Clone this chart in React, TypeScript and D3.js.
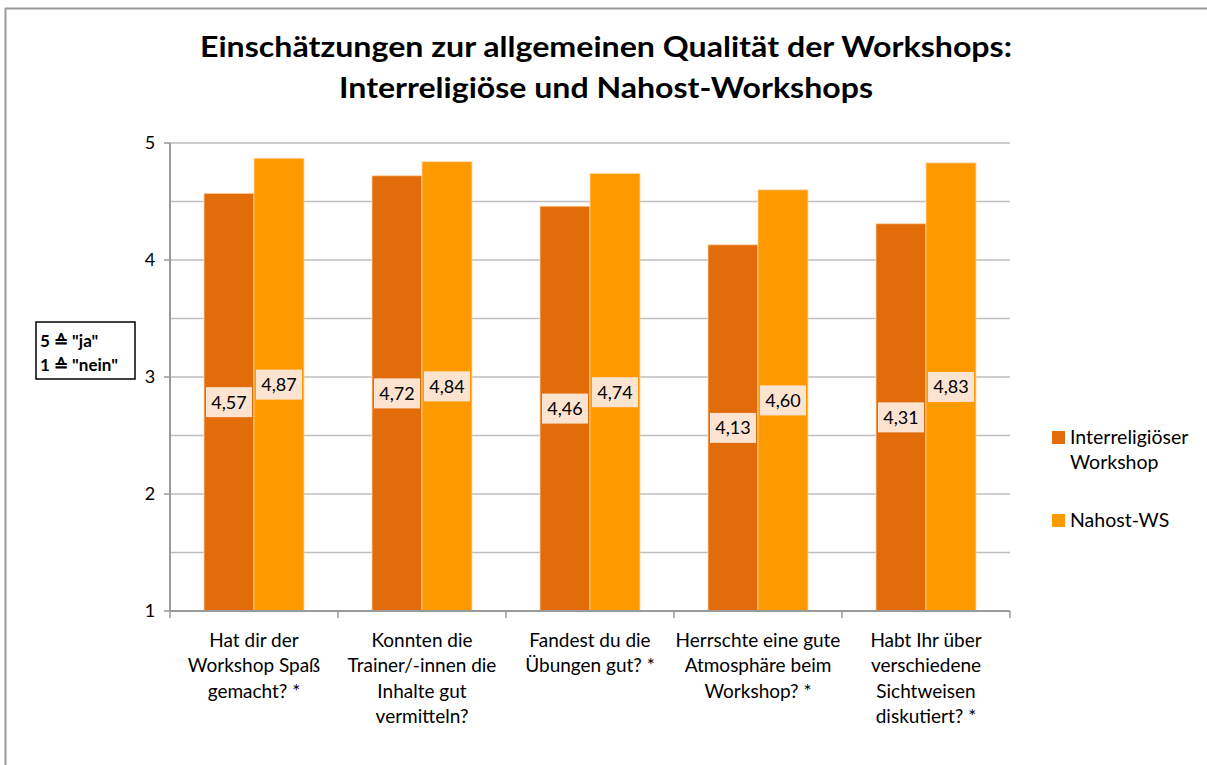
import React from "react";
import * as d3 from "d3";

const categories: string[][] = [
  ["Hat dir der", "Workshop Spaß", "gemacht? *"],
  ["Konnten die", "Trainer/-innen die", "Inhalte gut", "vermitteln?"],
  ["Fandest du die", "Übungen gut? *"],
  ["Herrschte eine gute", "Atmosphäre beim", "Workshop? *"],
  ["Habt Ihr über", "verschiedene", "Sichtweisen", "diskutiert? *"],
];
const seriesNames = ["Interreligiöser Workshop", "Nahost-WS"];
const interreligioes = [4.57, 4.72, 4.46, 4.13, 4.31];
const nahost = [4.87, 4.84, 4.74, 4.6, 4.83];
const yTicks = [1, 2, 3, 4, 5];
const gridValues = [1, 1.5, 2, 2.5, 3, 3.5, 4, 4.5, 5];
const colors = ["#E36C0A", "#FF9900"];
const titleLines = [
  "Einschätzungen zur allgemeinen Qualität der Workshops:",
  "Interreligiöse und Nahost-Workshops",
];

const FONT = "Lato, 'Open Sans', sans-serif";

export default function App() {
  const left = 170, right = 1010, top = 143, bottom = 611;
  const x0 = d3.scaleBand<number>().domain(d3.range(categories.length)).range([left, right]).paddingInner(0).paddingOuter(0);
  const y = d3.scaleLinear().domain([1, 5]).range([bottom, top]);
  const catW = x0.bandwidth();
  const barW = catW / (2 + 1.36);
  const gapHalf = (catW - 2 * barW) / 2;
  const series = [interreligioes, nahost];
  const fmt = (v: number) => v.toFixed(2).replace(".", ",");

  return (
    <div style={{ position: "fixed", left: 0, top: 0, width: 1207, height: 765, overflow: "hidden" }}>
      <svg width={1207} height={765} style={{ display: "block", background: "#fff" }}>
        <line x1={5} x2={1207} y1={8.5} y2={8.5} stroke="#999" strokeWidth={2} />
        <line x1={5.5} x2={5.5} y1={8} y2={765} stroke="#999" strokeWidth={2} />
        {titleLines.map((t, i) => (
          <text key={i} x={606} y={57 + i * 41} textAnchor="middle" fontFamily={FONT} fontWeight="bold" fontSize={28} fill="#000"
            textLength={i === 0 ? 812 : 534} lengthAdjust="spacingAndGlyphs">{t}</text>
        ))}
        {gridValues.map((g) => (
          <line key={g} x1={left} x2={right} y1={y(g)} y2={y(g)} stroke="#BEBEBE" strokeWidth={1.5} />
        ))}
        {series.map((vals, si) =>
          vals.map((v, ci) => {
            const bx = (x0(ci) as number) + gapHalf + si * barW;
            return (
              <rect key={`${si}-${ci}`} x={bx} y={y(v)} width={barW} height={y(1) - y(v)} fill={colors[si]} stroke="#FFD9A8" strokeWidth={0.8} />
            );
          })
        )}
        {/* axes */}
        <line x1={left} x2={left} y1={top} y2={bottom} stroke="#9A9A9A" strokeWidth={2} />
        <line x1={left} x2={right} y1={bottom} y2={bottom} stroke="#9A9A9A" strokeWidth={2} />
        {yTicks.map((t) => (
          <g key={t}>
            <line x1={left - 6} x2={left} y1={y(t)} y2={y(t)} stroke="#9A9A9A" strokeWidth={1.5} />
            <text x={left - 20} y={y(t)} dy="0.35em" textAnchor="middle" fontFamily={FONT} fontSize={18} fill="#000">{t}</text>
          </g>
        ))}
        {d3.range(categories.length + 1).map((i) => (
          <line key={i} x1={left + i * catW} x2={left + i * catW} y1={bottom} y2={bottom + 7} stroke="#9A9A9A" strokeWidth={1.5} />
        ))}
        {categories.map((lines, ci) => (
          <text key={ci} textAnchor="middle" fontFamily={FONT} fontSize={19} fill="#000">
            {lines.map((l, li) => (
              <tspan key={li} x={(x0(ci) as number) + catW / 2} y={647 + li * 25.3}>{l}</tspan>
            ))}
          </text>
        ))}
        {/* data labels */}
        {series.map((vals, si) =>
          vals.map((v, ci) => {
            const cx = (x0(ci) as number) + gapHalf + si * barW + barW / 2;
            const cy = (y(v) + y(1)) / 2;
            return (
              <g key={`l${si}-${ci}`}>
                <rect x={cx - 23} y={cy - 15} width={46} height={30} fill="#FDE4D1" />
                <text x={cx} y={cy} dy="0.36em" textAnchor="middle" fontFamily={FONT} fontSize={18} fill="#000">{fmt(v)}</text>
              </g>
            );
          })
        )}
        {/* legend */}
        <rect x={1052} y={431} width={13} height={13} fill={colors[0]} />
        <text fontFamily={FONT} fontSize={19.5} fill="#000">
          <tspan x={1070} y={444}>Interreligiöser</tspan>
          <tspan x={1070} y={469}>Workshop</tspan>
        </text>
        <rect x={1052} y={514} width={13} height={13} fill={colors[1]} />
        <text x={1070} y={527} fontFamily={FONT} fontSize={19.5} fill="#000">{seriesNames[1]}</text>
        {/* note box */}
        <rect x={36} y={322} width={99} height={57} fill="#fff" stroke="#000" strokeWidth={1.5} />
        <text fontFamily={FONT} fontSize={17} fontWeight="bold" fill="#000">
          <tspan x={40} y={347}>5 ≙ "ja"</tspan>
          <tspan x={40} y={371}>1 ≙ "nein"</tspan>
        </text>
      </svg>
    </div>
  );
}
